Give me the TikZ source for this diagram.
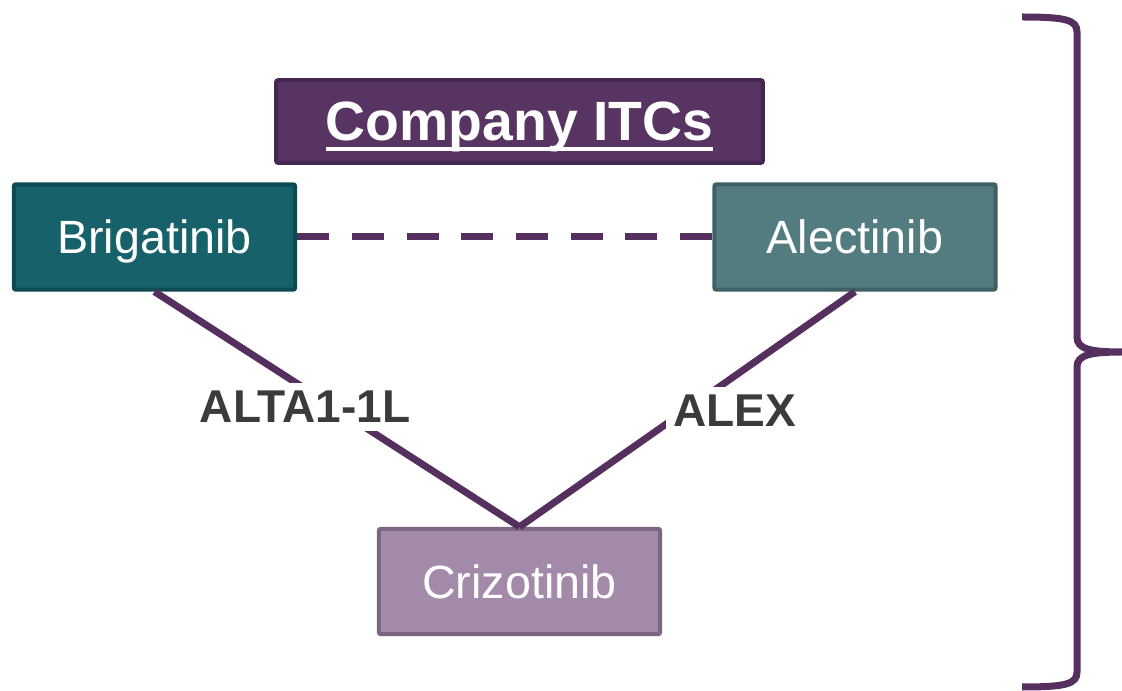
\documentclass[tikz,border=0pt]{standalone}
\usepackage{xcolor}
\usepackage{tikz}
\usepackage{fontspec}
\setmainfont{Liberation Sans}

\definecolor{itcfill}{HTML}{573462}
\definecolor{itcborder}{HTML}{432750}
\definecolor{brigfill}{HTML}{17616B}
\definecolor{brigborder}{HTML}{0E4A52}
\definecolor{alecfill}{HTML}{537C81}
\definecolor{alecborder}{HTML}{3F6064}
\definecolor{crizfill}{HTML}{A38AA8}
\definecolor{crizborder}{HTML}{7B6680}
\definecolor{linkpurple}{HTML}{55305F}
\definecolor{trialgray}{HTML}{3B3B3B}

\newcommand{\thickul}[1]{\setbox0\hbox{#1}\rlap{\copy0}\raisebox{-7.5pt}{\rule{\wd0}{3pt}}}

\begin{document}
\begin{tikzpicture}[x=0.75pt,y=0.75pt,yscale=-1,xscale=1,
  drugbox/.style={rectangle, rounded corners=1.5pt, line width=3pt, minimum width=211pt, minimum height=79pt, text depth=0pt, text=white, font=\fontsize{35}{40}\selectfont},
  link/.style={draw=linkpurple, line width=5.25pt},
  trial/.style={fill=white, text=trialgray, inner sep=6pt, font=\fontsize{34.5}{40}\selectfont\bfseries}]
\useasboundingbox (0,0) rectangle (1122,691);

% Title box
\node [rectangle, rounded corners=1.5pt, line width=3pt, draw=itcborder, fill=itcfill, minimum width=365pt, minimum height=62pt, text depth=0pt, text=white, font=\fontsize{41.5}{46}\selectfont\bfseries] (itcs) at (519.5,121.5) {\thickul{Company ITCs}};

% Treatment boxes
\node [drugbox, draw=brigborder, fill=brigfill] (brig) at (154.5,237) {Brigatinib};
\node [drugbox, draw=alecborder, fill=alecfill] (alec) at (855,237) {Alectinib};
\node [drugbox, draw=crizborder, fill=crizfill] (criz) at (519.5,581.5) {Crizotinib};

% Links
\draw [link, dash pattern=on 24pt off 17pt] (brig.east) -- (alec.west);
\draw [link] (brig.south) -- (criz.north);
\draw [link] (alec.south) -- (criz.north);

% Text Node
\node [trial] (alta) at (305,407) {ALTA1-1L};
% Text Node
\node [trial] (alex) at (735,411) {ALEX};

% Brace
\draw [draw=linkpurple, line width=5.25pt] (1022,17) .. controls (1066,17) and (1077,20) .. (1077,32) -- (1077,337) .. controls (1077,349) and (1090,352) .. (1122,352) .. controls (1090,352) and (1077,355) .. (1077,367) -- (1077,672) .. controls (1077,684) and (1066,687) .. (1022,687);

\end{tikzpicture}
\end{document}
